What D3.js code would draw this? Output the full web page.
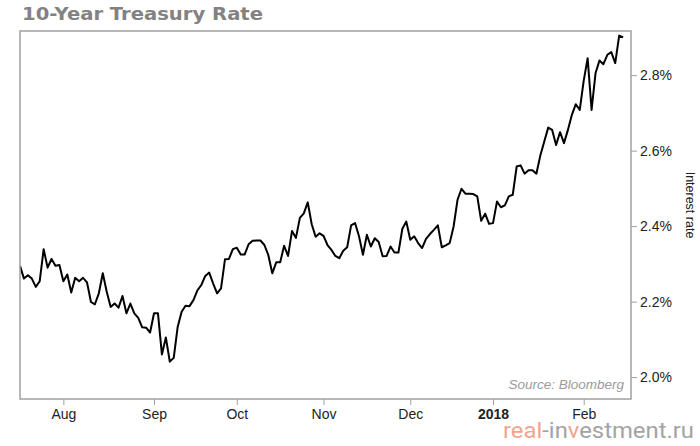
<!DOCTYPE html>
<html>
<head>
<meta charset="utf-8">
<script src="https://cdn.jsdelivr.net/npm/d3@7/dist/d3.min.js"></script>
<style>
  html, body { margin: 0; padding: 0; background: #fff; }
  svg { display: block; }
</style>
</head>
<body>
<svg id="chart" width="700" height="446"></svg>
<script>
// ---- Data ----
const title = "10-Year Treasury Rate";
const startDate = "2017-07-17"; // first trading (week)day shown
// daily 10-year Treasury yield, % (one value per weekday)
const rates = [
  2.295, 2.261, 2.270, 2.261, 2.239, 2.254, 2.339, 2.290, 2.313, 2.295,
  2.297, 2.254, 2.272, 2.224, 2.263, 2.254, 2.263, 2.251, 2.199, 2.193,
  2.222, 2.275, 2.226, 2.186, 2.195, 2.184, 2.215, 2.169, 2.195, 2.169,
  2.157, 2.132, 2.131, 2.118, 2.169, 2.169, 2.060, 2.105, 2.041, 2.051,
  2.133, 2.173, 2.189, 2.188, 2.204, 2.230, 2.244, 2.268, 2.277, 2.248,
  2.222, 2.235, 2.312, 2.313, 2.339, 2.343, 2.325, 2.325, 2.352, 2.361,
  2.362, 2.362, 2.350, 2.323, 2.275, 2.304, 2.304, 2.348, 2.321, 2.387,
  2.369, 2.422, 2.434, 2.463, 2.405, 2.372, 2.381, 2.374, 2.350, 2.337,
  2.321, 2.315, 2.335, 2.344, 2.402, 2.408, 2.373, 2.324, 2.377, 2.346,
  2.368, 2.358, 2.320, 2.321, 2.346, 2.330, 2.330, 2.393, 2.412, 2.364,
  2.373, 2.355, 2.342, 2.366, 2.379, 2.390, 2.402, 2.344, 2.349, 2.355,
  2.399, 2.470, 2.499, 2.486, 2.486, 2.485, 2.479, 2.414, 2.433, 2.406,
  2.408, 2.465, 2.450, 2.455, 2.479, 2.483, 2.558, 2.561, 2.539, 2.548,
  2.548, 2.539, 2.587, 2.624, 2.661, 2.655, 2.615, 2.649, 2.620, 2.655,
  2.695, 2.723, 2.708, 2.785, 2.845, 2.708, 2.805, 2.839, 2.829, 2.854,
  2.861, 2.832, 2.905, 2.900
];
const yTicks = [2.0, 2.2, 2.4, 2.6, 2.8];
const yLabel = "Interest rate";
const sourceText = "Source: Bloomberg";
const watermarkParts = [
  { t: "real", c: "#f2a490" },
  { t: "-in", c: "#a3a3a3" },
  { t: "v", c: "#f2a490" },
  { t: "estment.ru", c: "#a3a3a3" }
];

// ---- Build weekday dates for each value ----
const dates = [];
{
  let d = d3.timeParse("%Y-%m-%d")(startDate);
  while (dates.length < rates.length) {
    const wd = d.getDay();
    if (wd !== 0 && wd !== 6) dates.push(new Date(d));
    d = d3.timeDay.offset(d, 1);
  }
}
const data = rates.map((v, i) => ({ i, date: dates[i], v }));
// month-start ticks (first weekday of each month)
const monthTicks = data.filter((d, i) => i > 0 && d.date.getMonth() !== dates[i - 1].getMonth());

// ---- Layout ----
const L = 20, R = 631, T = 31, B = 399;
const svg = d3.select("#chart");

const x = d3.scaleLinear().domain([0, 155]).range([L, R]);
const y = d3.scaleLinear().domain([1.942, 2.917]).range([B, T]);

// title
svg.append("text")
  .attr("x", 22).attr("y", 20)
  .attr("font-family", "DejaVu Sans")
  .attr("font-weight", "bold")
  .attr("font-size", 17)
  .attr("fill", "#828282")
  .attr("textLength", 241)
  .attr("lengthAdjust", "spacingAndGlyphs")
  .text(title);

// clip
svg.append("clipPath").attr("id", "plotclip")
  .append("rect").attr("x", L).attr("y", T).attr("width", R - L).attr("height", B - T);

// line
const line = d3.line().x(d => x(d.i)).y(d => y(d.v));
svg.append("path")
  .datum(data)
  .attr("clip-path", "url(#plotclip)")
  .attr("fill", "none")
  .attr("stroke", "#000")
  .attr("stroke-width", 2)
  .attr("stroke-linejoin", "round")
  .attr("d", line);

// frame
svg.append("rect")
  .attr("x", L).attr("y", T).attr("width", R - L).attr("height", B - T)
  .attr("fill", "none").attr("stroke", "#a0a0a0").attr("stroke-width", 1.5);

// right axis
const yAxis = d3.axisRight(y).tickValues(yTicks)
  .tickFormat(d => d.toFixed(1) + "%").tickSize(6).tickPadding(3);
const gy = svg.append("g").attr("transform", `translate(${R},0)`).call(yAxis);
gy.select(".domain").remove();
gy.selectAll(".tick line").attr("stroke", "#a0a0a0");
gy.selectAll(".tick text")
  .attr("font-family", "Liberation Sans, Arial, sans-serif")
  .attr("font-size", 14).attr("fill", "#222");

// bottom axis
const fmtMonth = d3.timeFormat("%b"), fmtYear = d3.timeFormat("%Y");
const xAxis = d3.axisBottom(x).tickValues(monthTicks.map(d => d.i))
  .tickFormat(i => dates[i].getMonth() === 0 ? fmtYear(dates[i]) : fmtMonth(dates[i]))
  .tickSize(6).tickPadding(4);
const gx = svg.append("g").attr("transform", `translate(0,${B})`).call(xAxis);
gx.select(".domain").remove();
gx.selectAll(".tick line").attr("stroke", "#a0a0a0");
gx.selectAll(".tick text")
  .attr("font-family", "Liberation Sans, Arial, sans-serif")
  .attr("font-size", 14).attr("fill", "#222")
  .attr("font-weight", i => dates[i].getMonth() === 0 ? "bold" : "normal");

// y axis title
svg.append("text")
  .attr("transform", "translate(686,205) rotate(90)")
  .attr("text-anchor", "middle")
  .attr("font-family", "Liberation Sans, Arial, sans-serif")
  .attr("font-size", 12.5).attr("fill", "#222")
  .text(yLabel);

// source
svg.append("text")
  .attr("x", 624).attr("y", 389)
  .attr("text-anchor", "end")
  .attr("font-family", "Liberation Sans, Arial, sans-serif")
  .attr("font-style", "italic")
  .attr("font-size", 13.5).attr("fill", "#9a9a9a")
  .text(sourceText);

// watermark
const wm = svg.append("text")
  .attr("x", 503).attr("y", 438)
  .attr("font-family", "Roboto, sans-serif")
  .attr("font-size", 22)
  .attr("textLength", 191)
  .attr("lengthAdjust", "spacingAndGlyphs");
wm.selectAll("tspan").data(watermarkParts).join("tspan")
  .attr("fill", d => d.c).text(d => d.t);
</script>
</body>
</html>
